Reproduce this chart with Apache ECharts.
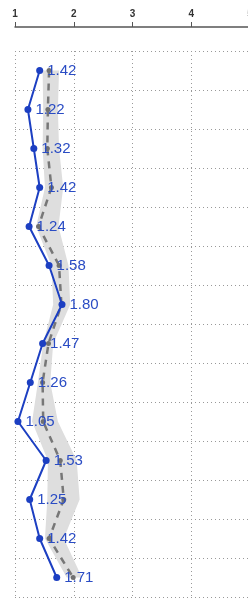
<!DOCTYPE html>
<html>
<head>
<meta charset="utf-8">
<script src="https://cdn.jsdelivr.net/npm/echarts@6/dist/echarts.min.js"></script>
<style>
  html, body { margin: 0; padding: 0; background: #fff; }
  #chart { width: 248px; height: 601px; }
</style>
</head>
<body>
<div id="chart"></div>
<script>
// rows, top to bottom
const categories = ['1', '2', '3', '4', '5', '6', '7', '8', '9', '10', '11', '12', '13', '14']
// blue series (labelled values)
const values = [1.42, 1.22, 1.32, 1.42, 1.24, 1.58, 1.80, 1.47, 1.26, 1.05, 1.53, 1.25, 1.42, 1.71]
// grey dashed reference line
const refValues = [1.58, 1.56, 1.55, 1.62, 1.40, 1.75, 1.79, 1.57, 1.47, 1.48, 1.77, 1.83, 1.58, 1.99]
// grey band around the reference
const bandLow = [1.47, 1.48, 1.47, 1.51, 1.36, 1.62, 1.65, 1.48, 1.39, 1.29, 1.56, 1.55, 1.51, 1.88]
const bandHigh = [1.75, 1.73, 1.75, 1.82, 1.74, 1.91, 1.94, 1.65, 1.60, 1.73, 2.05, 2.10, 1.83, 2.14]
const xTicks = [1, 5, 1] // min, max, interval

const bandDiff = bandHigh.map((h, i) => +(h - bandLow[i]).toFixed(2))

const chart = echarts.init(document.getElementById('chart'))
chart.setOption({
  animation: false,
  grid: {top: 51, bottom: 4, left: 15, right: -2, outerBoundsMode: 'none'},
  xAxis: {
    type: 'value',
    position: 'top',
    offset: 24,
    min: xTicks[0],
    max: xTicks[1],
    interval: xTicks[2],
    axisLine: {show: true, lineStyle: {color: '#555', width: 1.5}},
    axisTick: {show: true, length: 5, lineStyle: {color: '#555'}},
    axisLabel: {
      fontSize: 10, fontWeight: 'bold', color: '#333', margin: 8,
      fontFamily: 'Liberation Sans', showMaxLabel: true, showMinLabel: true, hideOverlap: false
    },
    splitLine: {show: true, lineStyle: {type: [1, 3], color: '#999', width: 1}}
  },
  yAxis: {
    type: 'category',
    inverse: true,
    boundaryGap: true,
    data: categories,
    axisLine: {show: false},
    axisTick: {show: false},
    axisLabel: {show: false},
    splitLine: {show: true, interval: 0, lineStyle: {type: [1, 3], color: '#999', width: 1}}
  },
  series: [
    {
      type: 'line', stack: 'band', data: bandLow,
      symbol: 'none', lineStyle: {opacity: 0}, silent: true
    },
    {
      type: 'line', stack: 'band', data: bandDiff,
      symbol: 'none', lineStyle: {opacity: 0}, silent: true,
      areaStyle: {color: '#dedede', opacity: 1}
    },
    {
      type: 'line', data: refValues,
      symbol: 'circle', symbolSize: 5,
      itemStyle: {color: '#707070'},
      lineStyle: {color: '#777', width: 2.5, type: [7, 6]}
    },
    {
      type: 'line', data: values,
      symbol: 'circle', symbolSize: 7,
      itemStyle: {color: '#1c3fc2'},
      lineStyle: {color: '#1c3fc2', width: 2},
      label: {
        show: true,
        position: 'right',
        distance: 4,
        fontSize: 15,
        color: '#2a4cc4',
        fontFamily: 'Liberation Sans',
        formatter: p => p.value.toFixed(2)
      }
    }
  ]
})
</script>
</body>
</html>
